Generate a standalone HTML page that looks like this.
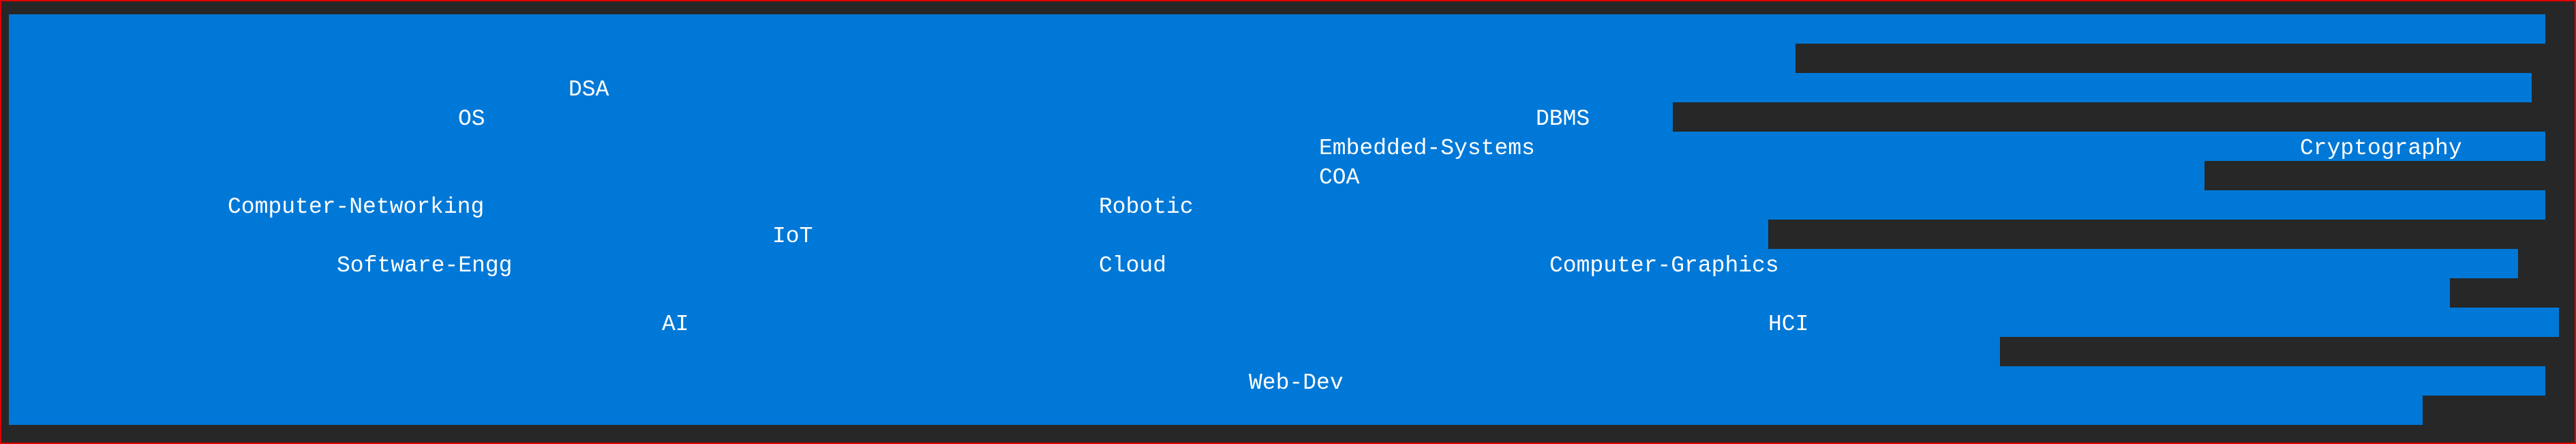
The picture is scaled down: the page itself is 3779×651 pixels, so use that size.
<!DOCTYPE html>
<html><head><meta charset="utf-8"><style>
html,body{margin:0;padding:0}
body{width:3779px;height:651px;position:relative;overflow:hidden;background:#272727}
.frame{position:absolute;left:0;top:0;width:3775px;height:647px;border:2px solid #e00000;}
.b{position:absolute;left:13px;height:43px;background:#0078d7}
.t{position:absolute;height:43px;line-height:43px;padding-top:3px;color:#fff;font-family:"Liberation Mono","DejaVu Sans Mono",monospace;font-size:33px;white-space:nowrap}
</style></head><body>
<div class="b" style="top:21px;width:3721px"></div>
<div class="b" style="top:64px;width:2621px"></div>
<div class="b" style="top:107px;width:3701px"></div>
<div class="b" style="top:150px;width:2441px"></div>
<div class="b" style="top:193px;width:3721px"></div>
<div class="b" style="top:236px;width:3221px"></div>
<div class="b" style="top:279px;width:3721px"></div>
<div class="b" style="top:322px;width:2581px"></div>
<div class="b" style="top:365px;width:3681px"></div>
<div class="b" style="top:408px;width:3581px"></div>
<div class="b" style="top:451px;width:3741px"></div>
<div class="b" style="top:494px;width:2921px"></div>
<div class="b" style="top:537px;width:3721px"></div>
<div class="b" style="top:580px;width:3541px"></div>
<div class="frame"></div>
<div class="t" style="top:107px;left:834px">DSA</div>
<div class="t" style="top:150px;left:672px">OS</div>
<div class="t" style="top:150px;left:2253px">DBMS</div>
<div class="t" style="top:193px;left:1935px">Embedded-Systems</div>
<div class="t" style="top:193px;left:3374px">Cryptography</div>
<div class="t" style="top:236px;left:1935px">COA</div>
<div class="t" style="top:279px;left:334px">Computer-Networking</div>
<div class="t" style="top:279px;left:1612px">Robotic</div>
<div class="t" style="top:322px;left:1133px">IoT</div>
<div class="t" style="top:365px;left:494px">Software-Engg</div>
<div class="t" style="top:365px;left:1612px">Cloud</div>
<div class="t" style="top:365px;left:2273px">Computer-Graphics</div>
<div class="t" style="top:451px;left:971px">AI</div>
<div class="t" style="top:451px;left:2594px">HCI</div>
<div class="t" style="top:537px;left:1832px">Web-Dev</div>
</body></html>
